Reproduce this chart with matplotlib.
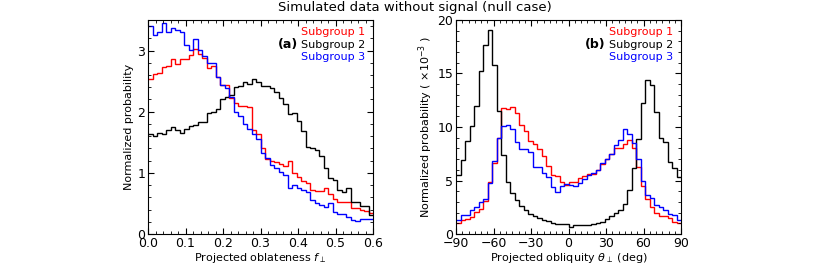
import numpy as np
import matplotlib
matplotlib.use("Agg")
import matplotlib.pyplot as plt
from matplotlib.ticker import MultipleLocator

# Panel (a): projected oblateness, 50 bins over 0-0.6
f_edges = np.linspace(0.0, 0.6, 51)
f_sub1 = [2.54, 2.62, 2.63, 2.73, 2.75, 2.87, 2.78, 2.86, 2.86, 2.93,
          3.02, 2.95, 2.88, 2.72, 2.75, 2.57, 2.43, 2.43, 2.22, 2.15,
          2.10, 2.10, 2.08, 1.70, 1.63, 1.41, 1.22, 1.20, 1.17, 1.15,
          1.12, 1.19, 0.99, 0.94, 0.87, 0.84, 0.72, 0.70, 0.70, 0.75,
          0.65, 0.58, 0.53, 0.52, 0.53, 0.42, 0.43, 0.40, 0.38, 0.34]
f_sub2 = [1.63, 1.60, 1.66, 1.64, 1.70, 1.75, 1.70, 1.66, 1.72, 1.77,
          1.78, 1.83, 1.83, 1.98, 2.00, 2.05, 2.20, 2.24, 2.28, 2.40,
          2.42, 2.48, 2.46, 2.53, 2.49, 2.42, 2.42, 2.38, 2.32, 2.23,
          2.13, 1.96, 1.98, 1.85, 1.68, 1.43, 1.41, 1.38, 1.27, 1.08,
          0.92, 0.88, 0.72, 0.69, 0.75, 0.53, 0.52, 0.46, 0.45, 0.31]
f_sub3 = [3.40, 3.25, 3.31, 3.45, 3.31, 3.37, 3.34, 3.30, 3.09, 3.01,
          3.19, 3.01, 2.91, 2.79, 2.79, 2.57, 2.43, 2.38, 2.24, 1.99,
          1.93, 1.80, 1.71, 1.63, 1.55, 1.33, 1.24, 1.13, 1.08, 1.02,
          0.97, 0.75, 0.80, 0.75, 0.72, 0.69, 0.55, 0.50, 0.47, 0.44,
          0.50, 0.36, 0.33, 0.33, 0.28, 0.23, 0.22, 0.25, 0.24, 0.25]

# Panel (b): projected obliquity, 50 bins over -90..90 deg (units of 1e-3)
t_edges = np.linspace(-90, 90, 51)
t_sub1 = [1.00, 1.31, 1.40, 1.57, 2.04, 2.30, 3.10, 4.86, 6.60, 8.94,
          11.76, 11.70, 11.85, 11.30, 10.20, 9.60, 8.70, 8.40, 7.90, 7.30,
          6.40, 5.50, 5.45, 4.90, 4.60, 4.86, 4.90, 5.20, 5.45, 5.60,
          5.60, 6.00, 6.50, 7.00, 7.50, 8.00, 8.00, 8.40, 8.78, 8.00,
          6.30, 4.50, 3.30, 2.50, 1.97, 1.72, 1.70, 1.50, 1.10, 1.00]
t_sub2 = [5.50, 6.90, 8.65, 10.06, 12.00, 15.20, 17.70, 19.06, 15.77, 11.47,
          7.40, 4.90, 3.80, 3.20, 2.60, 2.20, 1.90, 1.70, 1.45, 1.30,
          1.20, 1.05, 0.95, 0.92, 0.90, 0.70, 0.85, 0.80, 0.88, 0.85,
          0.95, 1.05, 1.15, 1.40, 1.70, 1.95, 2.20, 2.80, 4.10, 6.20,
          8.90, 12.20, 14.36, 13.95, 11.40, 9.00, 8.60, 6.70, 6.20, 5.30]
t_sub3 = [1.31, 1.78, 1.78, 2.20, 2.50, 3.00, 3.30, 4.75, 6.80, 8.94,
          10.10, 10.20, 9.80, 8.60, 7.90, 7.90, 7.70, 6.30, 6.30, 5.70,
          5.30, 4.40, 3.90, 4.50, 4.70, 4.60, 4.50, 4.80, 5.10, 5.50,
          5.70, 6.00, 6.60, 7.00, 7.50, 8.30, 8.78, 9.80, 9.35, 8.50,
          7.05, 5.00, 3.60, 3.40, 2.70, 2.50, 2.20, 1.90, 1.75, 1.30]

labels = ["Subgroup 1", "Subgroup 2", "Subgroup 3"]
colors = ["red", "black", "blue"]

fig = plt.figure(figsize=(8.3, 2.66), dpi=100)
ax1 = fig.add_axes([148 / 830, 32 / 266, 225 / 830, 214 / 266])
ax2 = fig.add_axes([456 / 830, 32 / 266, 225 / 830, 214 / 266])

for vals, c in zip([f_sub1, f_sub2, f_sub3], colors):
    ax1.stairs(vals, f_edges, color=c, lw=1.0, baseline=None)
for vals, c in zip([t_sub1, t_sub2, t_sub3], colors):
    ax2.stairs(vals, t_edges, color=c, lw=1.0, baseline=None)

ax1.set_xlim(0, 0.6)
ax1.set_ylim(0, 3.5)
ax1.xaxis.set_major_locator(MultipleLocator(0.1))
ax1.xaxis.set_minor_locator(MultipleLocator(0.02))
ax1.yaxis.set_major_locator(MultipleLocator(1))
ax1.yaxis.set_minor_locator(MultipleLocator(0.2))
ax1.set_xlabel(r"Projected oblateness $f_\perp$", fontsize=8, labelpad=1)
ax1.set_ylabel("Normalized probability", fontsize=8, labelpad=2)

ax2.set_xlim(-90, 90)
ax2.set_ylim(0, 20)
ax2.xaxis.set_major_locator(MultipleLocator(30))
ax2.xaxis.set_minor_locator(MultipleLocator(5))
ax2.yaxis.set_major_locator(MultipleLocator(5))
ax2.yaxis.set_minor_locator(MultipleLocator(1))
ax2.set_xlabel(r"Projected obliquity $\theta_\perp$ (deg)", fontsize=8, labelpad=1)
ax2.set_ylabel(r"Normalized probability ( $\times 10^{-3}$ )", fontsize=8, labelpad=2)

for ax, tag in [(ax1, "(a)"), (ax2, "(b)")]:
    ax.tick_params(which="both", direction="in", top=True, right=True,
                   labelsize=9, pad=2)
    ax.tick_params(which="major", length=4, width=0.8)
    ax.tick_params(which="minor", length=2, width=0.6)
    for i, (lab, c) in enumerate(zip(labels, colors)):
        ax.text(0.965, 0.945 - i * 0.06, lab, color=c, fontsize=8,
                ha="right", va="center", transform=ax.transAxes)
    ax.text(0.665, 0.885, tag, fontsize=9, fontweight="bold",
            ha="right", va="center", transform=ax.transAxes)

fig.text(0.5, 0.97, "Simulated data without signal (null case)",
         fontsize=9.5, ha="center", va="center")

fig.savefig("out.png", dpi=100)
